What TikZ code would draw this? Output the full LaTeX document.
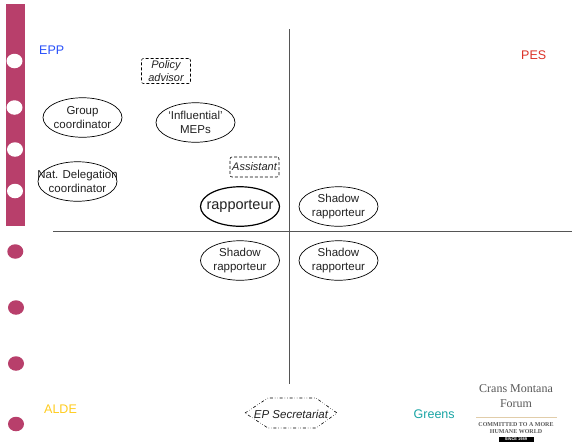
\documentclass[tikz,border=0pt]{standalone}
\usepackage{fontspec}
\setmainfont{Liberation Sans}
\newfontfamily\logofont{Liberation Serif}
\usetikzlibrary{shapes.geometric}
\definecolor{band}{HTML}{B83F6B}
\definecolor{axis}{HTML}{555555}
\definecolor{ink}{HTML}{222222}
\tikzset{
  x=1pt,y=-1pt,
  actortext/.style={align=center,inner sep=0pt,font=\fontsize{11.5}{14}\selectfont,text=ink},
  actor/.style={draw=black,ellipse,minimum width=79pt,minimum height=39.5pt,inner sep=0pt,line width=.7pt},
  aide/.style={draw=black,densely dashed,rounded corners=2pt,inner sep=0pt,align=center,font=\fontsize{11}{13}\selectfont\itshape,text=ink,line width=.6pt},
  party/.style={font=\fontsize{12.5}{14}\selectfont,anchor=west,inner sep=0pt},
  hole/.style={ellipse,fill=white,minimum width=16pt,minimum height=14.5pt,inner sep=0pt,draw=none},
  dot/.style={ellipse,fill=band,minimum width=16pt,minimum height=14.5pt,inner sep=0pt,draw=none},
  axisline/.style={draw=axis,line width=.9pt}
}
\begin{document}
\begin{tikzpicture}
\useasboundingbox (0,0) rectangle (572,445);
\fill[white] (0,0) rectangle (572,445);
\fill[band] (6,4) rectangle (25,226);
\node[hole] (h1) at (14.5,61) {};
\node[hole] (h2) at (14.5,107.5) {};
\node[hole] (h3) at (15,149.5) {};
\node[hole] (h4) at (15,191) {};
\node[dot] (d1) at (15.3,251.5) {};
\node[dot] (d2) at (16,307.5) {};
\node[dot] (d3) at (16,363.5) {};
\node[dot] (d4) at (16,424) {};
\coordinate (vt) at (289,29);
\coordinate (vb) at (289,383.5);
\coordinate (hl) at (53,231);
\coordinate (hr) at (572,231);
\draw[axisline] (vt) -- (vb);
\draw[axisline] (hl) -- (hr);
\node[party,text={rgb,255:red,40;green,80;blue,250}] (epp) at (39,50.5) {EPP};
\node[party,text={rgb,255:red,220;green,50;blue,40}] (pes) at (521,55.5) {PES};
\node[party,text={rgb,255:red,255;green,204;blue,30}] (alde) at (44,409.5) {ALDE};
\node[party,text={rgb,255:red,25;green,165;blue,165}] (greens) at (413.5,414.5) {Greens};
\node[aide,minimum width=49pt,minimum height=25pt] (policy) at (166,71) {Policy\\advisor};
\node[aide,minimum width=49pt,minimum height=20pt] (assistant) at (254.5,167) {Assistant};
\node[actor] (group) at (82.5,117.5) {};
\node[actortext] (tgroup) at (group.center) {Group\\coordinator};
\node[actor] (influential) at (195.5,122.5) {};
\node[actortext] (tinfluential) at (influential.center) {‘Influential’\\MEPs};
\node[actor] (nat) at (77.5,181.5) {};
\node[actortext] (tnat) at (nat.center) {Nat. Delegation\\coordinator};
\node[actor,line width=1.2pt] (rapp) at (240,206.5) {};
\node[actortext,font=\fontsize{14.5}{16}\selectfont] (trapp) at (rapp.center) {rapporteur};
\node[actor] (s1) at (338.5,206.5) {};
\node[actortext] (ts1) at (s1.center) {Shadow\\rapporteur};
\node[actor] (s2) at (240,260.5) {};
\node[actortext] (ts2) at (s2.center) {Shadow\\rapporteur};
\node[actor] (s3) at (338.5,260.5) {};
\node[actortext] (ts3) at (s3.center) {Shadow\\rapporteur};
\draw[black,dash dot dot,line width=.6pt] (245,413) -- (268,398) -- (316,398) -- (337,413) -- (316,428) -- (268,428) -- cycle;
\node[font=\fontsize{11.5}{13}\selectfont\itshape,text=ink,inner sep=0pt] (sec) at (291,414) {EP Secretariat};
\node[font=\logofont\fontsize{12}{15}\selectfont,text=black!65,align=center,inner sep=0pt] (logo) at (516,396) {Crans Montana\\Forum};
\coordinate (ll) at (476,417.5);
\coordinate (lr) at (557,417.5);
\draw[draw={rgb,255:red,225;green,205;blue,170},line width=1pt] (ll) -- (lr);
\node[font=\logofont\bfseries\fontsize{6}{7}\selectfont,text=black!65,align=center,inner sep=0pt] (tag) at (516,428) {COMMITTED TO A MORE\\HUMANE WORLD};
\node[fill=black,text=white,font=\bfseries\fontsize{4}{4}\selectfont,inner sep=0pt,minimum width=35pt,minimum height=5pt] (since) at (516,439) {SINCE 1989};
\end{tikzpicture}
\end{document}
